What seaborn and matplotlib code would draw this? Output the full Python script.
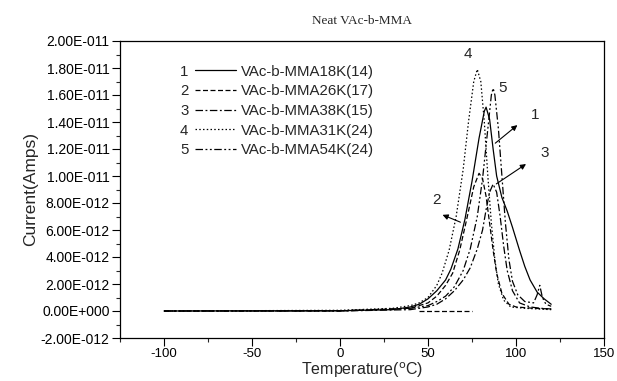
import numpy as np
import pandas as pd
import matplotlib
matplotlib.use("Agg")
import matplotlib.pyplot as plt
import seaborn as sns
from matplotlib.ticker import FuncFormatter, MultipleLocator
from matplotlib.lines import Line2D

# ---- data (currents in units of 1e-12 A) ----
t1 = [-100, 0, 30, 40, 45, 50, 55, 60, 63, 67, 71, 75, 79, 82, 83, 85, 87, 89, 92, 95, 98, 102, 105, 108, 112, 116, 120]
i1 = [0, 0.02, 0.1, 0.3, 0.5, 0.9, 1.5, 2.3, 3.1, 4.6, 6.8, 9.6, 12.8, 14.8, 15.1, 14.2, 12.0, 10.0, 8.4, 7.4, 6.2, 4.5, 3.3, 2.3, 1.4, 0.9, 0.5]
t2 = [-100, 0, 40, 50, 55, 60, 64, 68, 72, 76, 79, 81, 83, 85, 87, 89, 92, 96, 100, 110, 120]
i2 = [0, 0, 0.2, 0.6, 1.1, 1.9, 2.8, 4.5, 6.8, 9.2, 10.2, 9.8, 8.5, 6.5, 4.5, 2.8, 1.3, 0.5, 0.3, 0.2, 0.15]
t2b = [45, 75]
i2b = [0, 0]
t3 = [-100, 0, 40, 50, 55, 60, 65, 70, 74, 78, 81, 83, 85, 87, 89, 91, 93, 95, 98, 102, 108, 114, 120]
i3 = [0, 0, 0.1, 0.3, 0.5, 0.9, 1.5, 2.3, 3.2, 4.6, 6.0, 7.5, 8.8, 9.4, 8.8, 7.0, 4.8, 3.0, 1.5, 0.6, 0.3, 0.2, 0.15]
t4 = [-100, 0, 30, 40, 45, 50, 55, 58, 62, 66, 70, 73, 76, 78, 80, 82, 84, 86, 88, 90, 93, 97, 105, 120]
i4 = [0, 0.05, 0.2, 0.4, 0.6, 1.0, 1.9, 2.8, 4.5, 7.0, 10.5, 14.0, 17.0, 17.9, 17.0, 14.0, 10.0, 6.5, 3.8, 2.0, 0.8, 0.3, 0.2, 0.1]
t5 = [-100, 0, 40, 50, 55, 60, 65, 70, 74, 78, 81, 84, 86, 87, 88, 90, 92, 94, 96, 98, 101, 105, 110, 112, 113.5, 115, 117, 120]
i5 = [0, 0.02, 0.2, 0.4, 0.7, 1.1, 1.8, 3.0, 4.6, 7.0, 9.8, 13.5, 16.0, 16.5, 16.0, 13.5, 10.0, 6.5, 3.8, 2.2, 1.2, 0.7, 0.6, 1.2, 1.9, 1.0, 0.5, 0.35]

labels = ["VAc-b-MMA18K(14)", "VAc-b-MMA26K(17)", "VAc-b-MMA38K(15)",
          "VAc-b-MMA31K(24)", "VAc-b-MMA54K(24)"]
numbers = ["1", "2", "3", "4", "5"]

frames = []
for lab, t, i in zip(labels, [t1, t2, t3, t4, t5], [i1, i2, i3, i4, i5]):
    frames.append(pd.DataFrame({"T": t, "I": np.array(i) * 1e-12, "series": lab, "seg": lab}))
frames.append(pd.DataFrame({"T": t2b, "I": np.array(i2b) * 1e-12, "series": labels[1], "seg": "extra"}))
df = pd.concat(frames, ignore_index=True)

dash_map = {
    labels[0]: "",
    labels[1]: (4, 2),
    labels[2]: (6, 2, 1.5, 2),
    labels[3]: (1.2, 1.8),
    labels[4]: (6, 2, 1.5, 2, 1.5, 2),
}

def ls_of(lab):
    return "-" if dash_map[lab] == "" else (0, dash_map[lab])

sns.set_style("ticks")
plt.rcParams["font.family"] = ["Liberation Sans", "DejaVu Sans"]
plt.rcParams["axes.unicode_minus"] = False

fig = plt.figure(figsize=(6.17, 3.81), dpi=100)
ax = fig.add_axes([120 / 617, 43 / 381, 484 / 617, 297 / 381])

for seg, sub in df.groupby("seg", sort=False):
    lab = sub["series"].iloc[0]
    sns.lineplot(data=sub, x="T", y="I", ax=ax, color="black", lw=0.9,
                 sort=False, estimator=None, legend=False,
                 dashes=False, linestyle=ls_of(lab))

ax.set_xlim(-125, 150)
ax.set_ylim(-2e-12, 2e-11)
ax.xaxis.set_major_locator(MultipleLocator(50))
ax.xaxis.set_minor_locator(MultipleLocator(25))
ax.yaxis.set_major_locator(MultipleLocator(2e-12))
ax.yaxis.set_minor_locator(MultipleLocator(1e-12))

def yfmt(v, pos):
    if abs(v) < 1e-20:
        return "0.00E+000"
    e = int(np.floor(np.log10(abs(v)) + 1e-9))
    m = v / 10 ** e
    sign = "-" if e < 0 else "+"
    return f"{m:.2f}E{sign}{abs(e):03d}"

ax.yaxis.set_major_formatter(FuncFormatter(yfmt))
ax.tick_params(which="major", direction="out", length=5.5, width=0.8, colors="black", pad=2)
ax.tick_params(which="minor", direction="out", length=3, width=0.8)
ax.tick_params(axis="y", labelsize=10)
ax.tick_params(axis="x", labelsize=9.5, pad=2)
for s in ax.spines.values():
    s.set_linewidth(0.9)
    s.set_color("black")

ax.set_xlabel("Temperature($^{\\rm o}$C)", fontsize=11.5, labelpad=0)
ax.set_ylabel("Current(Amps)", fontsize=12.5, labelpad=2)
ax.set_title("Neat VAc-b-MMA", fontsize=9.5, family=["Liberation Serif", "DejaVu Serif"], pad=12)

handles = [Line2D([], [], color="black", lw=0.9, linestyle=ls_of(l)) for l in labels]
leg = ax.legend(handles, labels, loc="upper left", bbox_to_anchor=(0.128, 0.966), frameon=False,
                fontsize=10.8, handlelength=2.67, handletextpad=0.33, labelspacing=0.38)

fig.canvas.draw()
inv = ax.transAxes.inverted()
for num, h, txt in zip(numbers, leg.legend_handles, leg.get_texts()):
    bb_t = txt.get_window_extent()
    bb_h = h.get_window_extent()
    yc = (bb_t.y0 + bb_t.y1) / 2
    xa, ya = inv.transform((bb_h.x0 - 7, yc))
    ax.text(xa, ya, num, transform=ax.transAxes, ha="right", va="center", fontsize=10.8)

# peak labels and arrows
ax.text(72.7, 19.0e-12, "4", fontsize=11, ha="center", va="center")
ax.text(92.6, 16.5e-12, "5", fontsize=11, ha="center", va="center")
ax.text(110.8, 14.5e-12, "1", fontsize=11, ha="center", va="center")
ax.text(116.5, 11.7e-12, "3", fontsize=11, ha="center", va="center")
ax.text(55, 8.2e-12, "2", fontsize=11, ha="center", va="center")
arw = dict(arrowstyle="-|>", color="black", lw=0.8, mutation_scale=8)
ax.annotate("", xy=(102, 13.9e-12), xytext=(87, 12.3e-12), arrowprops=arw)
ax.annotate("", xy=(107, 11.0e-12), xytext=(87.5, 9.3e-12), arrowprops=arw)
ax.annotate("", xy=(56.8, 7.2e-12), xytext=(69.9, 6.5e-12), arrowprops=arw)

fig.savefig("out.png", dpi=100)
